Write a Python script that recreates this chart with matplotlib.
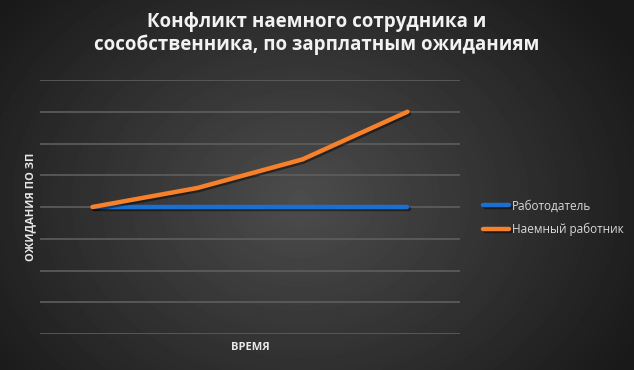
import numpy as np
import matplotlib
matplotlib.use('Agg')
import matplotlib.pyplot as plt
import matplotlib.patheffects as pe

plt.rcParams['font.family'] = ['Open Sans', 'DejaVu Sans']

# data (category axis with 4 points, no tick labels)
periods = [0, 1, 2, 3]
employer = [4, 4, 4, 4]
employee = [4, 4.6, 5.5, 7]
series_names = ['Работодатель', 'Наемный работник']
title = 'Конфликт наемного сотрудника и\nсособственника, по зарплатным ожиданиям'

fig = plt.figure(figsize=(6.34, 3.7), dpi=100)

# radial gradient background
bg = fig.add_axes([0, 0, 1, 1], zorder=-10)
yy, xx = np.mgrid[0:370, 0:634]
r = np.sqrt(((xx - 300) / 380.0) ** 2 + ((yy - 200) / 300.0) ** 2)
shade = np.clip(0.30 - 0.20 * r, 0.10, 0.30)
bg.imshow(shade, cmap='gray', vmin=0, vmax=1, aspect='auto', interpolation='bilinear')
bg.axis('off')

ax = fig.add_axes([40 / 634, 36 / 370, 420 / 634, 254 / 370])
ax.patch.set_alpha(0)
shadow = [pe.SimpleLineShadow(offset=(1, -1.5), shadow_color='black', alpha=0.45), pe.Normal()]
ax.plot(periods, employer, color='#1a6fd0', lw=3.2, solid_capstyle='round',
        label=series_names[0], path_effects=shadow, zorder=3)
ax.plot(periods, employee, color='#f7812a', lw=3.2, solid_capstyle='round',
        label=series_names[1], path_effects=shadow, zorder=4)

ax.set_xlim(-0.5, 3.5)
ax.set_ylim(0, 8)
ax.set_yticks(range(0, 9))
ax.set_xticks([])
ax.tick_params(left=False, labelleft=False)
ax.grid(axis='y', color='#5e5e5e', lw=1.2)
for s in ax.spines.values():
    s.set_visible(False)

ax.set_xlabel('ВРЕМЯ', color='#e8e8e8', fontsize=8, fontweight='bold', labelpad=6)
ax.set_ylabel('ОЖИДАНИЯ ПО ЗП', color='#e8e8e8', fontsize=8, fontweight='bold', labelpad=3)

fig.text(0.5, 0.91, title, ha='center', va='center', color='#f2f2f2',
         fontsize=13.5, fontweight='bold', linespacing=1.2)

leg = ax.legend(loc='center left', bbox_to_anchor=(1.03, 0.457), frameon=False,
                fontsize=8.5, labelcolor='#d9d9d9', handlelength=2.2, handletextpad=0.2,
                labelspacing=0.9)

fig.savefig('out.png', dpi=100)
